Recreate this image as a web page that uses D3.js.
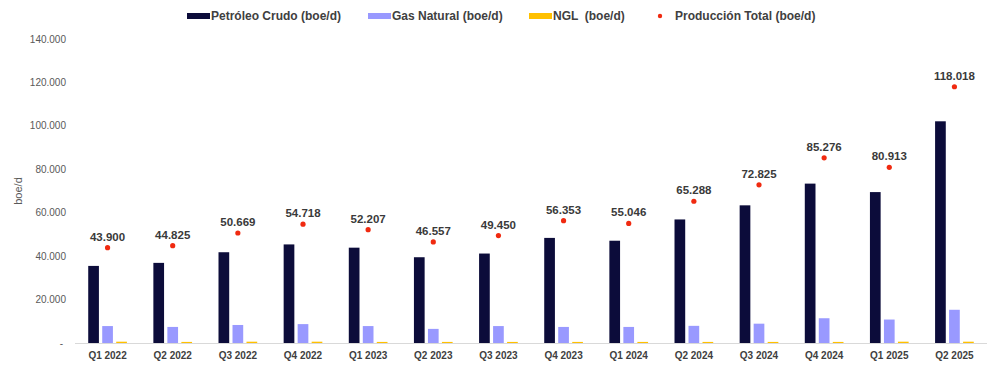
<!DOCTYPE html>
<html>
<head>
<meta charset="utf-8">
<style>
  body { margin: 0; background: #fff; font-family: "Liberation Sans", Arial, sans-serif; }
  svg { display: block; }
  .ytick text { font-size: 10px; fill: #595959; }
  .xtick text { font-size: 10px; font-weight: bold; fill: #404040; }
  .legend text { font-size: 12px; font-weight: bold; fill: #404040; white-space: pre; }
  .vlabel { font-size: 11.5px; font-weight: bold; fill: #3a3a3a; }
</style>
<script src="https://cdn.jsdelivr.net/npm/d3@7"></script>
</head>
<body>
<svg width="1000" height="370"></svg>
<script>
var quarters = ["Q1 2022","Q2 2022","Q3 2022","Q4 2022","Q1 2023","Q2 2023","Q3 2023",
                "Q4 2023","Q1 2024","Q2 2024","Q3 2024","Q4 2024","Q1 2025","Q2 2025"];
var crude = [35500, 36900, 41800, 45400, 43900, 39500, 41200, 48400, 47100, 56900, 63400, 73400, 69500, 102100];
var gas   = [7800, 7400, 8300, 8700, 7800, 6500, 7800, 7400, 7400, 7900, 8900, 11400, 10800, 15300];
var ngl   = [600, 500, 600, 600, 500, 500, 500, 500, 500, 500, 500, 500, 600, 600];
var total = [43900, 44825, 50669, 54718, 52207, 46557, 49450, 56353, 55046, 65288, 72825, 85276, 80913, 118018];
var yTicks = [0, 20000, 40000, 60000, 80000, 100000, 120000, 140000];

var series = [
  {key: "crude", name: "Petróleo Crudo (boe/d)", color: "#0c0c3a", values: crude},
  {key: "gas",   name: "Gas Natural (boe/d)",    color: "#9999ff", values: gas},
  {key: "ngl",   name: "NGL  (boe/d)",           color: "#ffc000", values: ngl}
];

var svg = d3.select("svg");
var plotLeft = 75, plotRight = 987, plotTop = 39, plotBottom = 343;

var x = d3.scaleBand().domain(quarters).range([plotLeft, plotRight]);
var xs = d3.scaleBand().domain(series.map(function(s) { return s.key; }))
    .range([-21, 21]).paddingInner(0.236).paddingOuter(0.118);
var y = d3.scaleLinear().domain([0, 140000]).range([plotBottom, plotTop]);

var fmt = function(v) {
  return v === 0 ? "-" : d3.format(",")(v).replace(/,/g, ".");
};

// y axis labels
var yg = svg.append("g").attr("class", "ytick");
yg.selectAll("text").data(yTicks).enter().append("text")
    .attr("x", function(d) { return d === 0 ? 63 : 66; })
    .attr("y", function(d) { return y(d); })
    .attr("dy", "0.35em")
    .attr("text-anchor", "end")
    .text(fmt);

svg.append("text")
    .attr("transform", "translate(22," + y(70000) + ") rotate(-90)")
    .attr("text-anchor", "middle")
    .style("font-size", "11px")
    .style("fill", "#595959")
    .text("boe/d");

// bars
series.forEach(function(s) {
  svg.append("g").selectAll("rect")
    .data(s.values).enter().append("rect")
      .attr("x", function(d, i) { return x(quarters[i]) + x.bandwidth() / 2 + xs(s.key); })
      .attr("width", xs.bandwidth())
      .attr("y", function(d) { return y(d); })
      .attr("height", function(d) { return plotBottom - y(d); })
      .attr("fill", s.color);
});

// x axis line
svg.append("line")
    .attr("x1", plotLeft).attr("x2", plotRight)
    .attr("y1", plotBottom + 0.5).attr("y2", plotBottom + 0.5)
    .attr("stroke", "#d9d9d9");

var xg = svg.append("g").attr("class", "xtick");
xg.selectAll("text").data(quarters).enter().append("text")
    .attr("x", function(d) { return x(d) + x.bandwidth() / 2; })
    .attr("y", 359)
    .attr("text-anchor", "middle")
    .text(function(d) { return d; });

// total production dots + labels
svg.append("g").selectAll("circle")
  .data(total).enter().append("circle")
    .attr("cx", function(d, i) { return x(quarters[i]) + x.bandwidth() / 2; })
    .attr("cy", function(d) { return y(d); })
    .attr("r", 2.6)
    .attr("fill", "#f02a10");

svg.append("g").selectAll("text")
  .data(total).enter().append("text")
    .attr("class", "vlabel")
    .attr("x", function(d, i) { return x(quarters[i]) + x.bandwidth() / 2; })
    .attr("y", function(d) { return y(d) - 7; })
    .attr("text-anchor", "middle")
    .text(fmt);

// legend
var legend = svg.append("g").attr("class", "legend");
var lx = [187, 368, 529];
series.forEach(function(s, i) {
  legend.append("rect")
      .attr("x", lx[i]).attr("y", 13)
      .attr("width", 23).attr("height", 6)
      .attr("fill", s.color);
  legend.append("text")
      .attr("x", lx[i] + 24).attr("y", 16)
      .attr("dy", "0.35em")
      .text(s.name);
});
legend.append("circle")
    .attr("cx", 660).attr("cy", 16).attr("r", 2.2)
    .attr("fill", "#f02a10");
legend.append("text")
    .attr("x", 675).attr("y", 16)
    .attr("dy", "0.35em")
    .text("Producción Total (boe/d)");
</script>
</body>
</html>
